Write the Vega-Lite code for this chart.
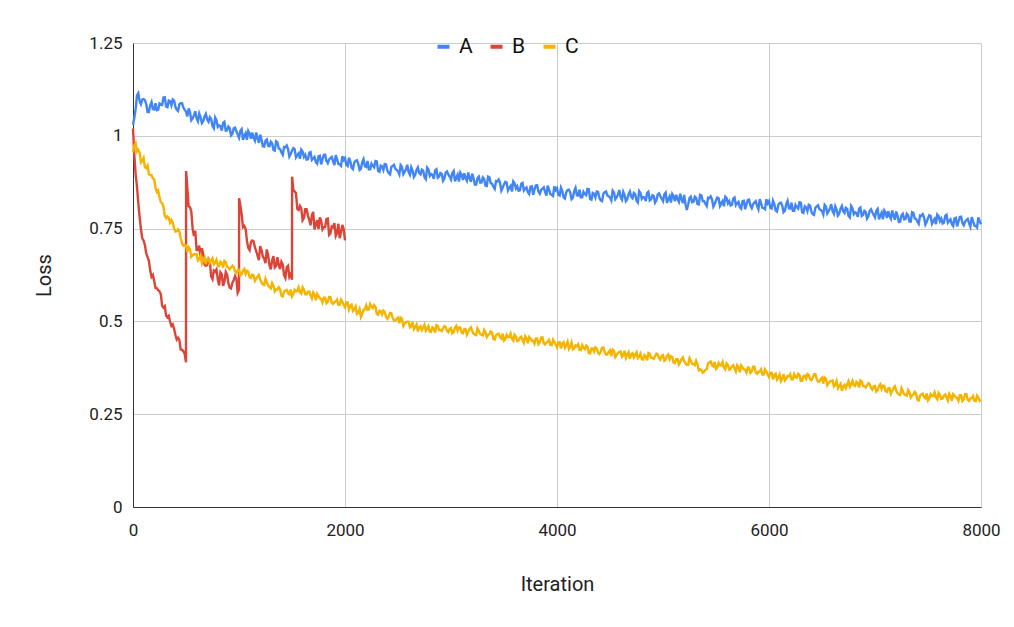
{
  "$schema": "https://vega.github.io/schema/vega-lite/v6.json",
  "width": 848,
  "height": 464,
  "autosize": {"type": "none"},
  "padding": {"left": 133, "top": 43, "right": 33, "bottom": 120},
  "background": "white",
  "config": {
    "font": "Roboto",
    "view": {"stroke": null},
    "axis": {
      "labelFont": "Roboto",
      "labelFontSize": 17,
      "labelColor": "#222222",
      "titleFont": "Roboto",
      "titleFontSize": 20,
      "titleFontWeight": "normal",
      "titleColor": "#222222",
      "ticks": false,
      "labelFlush": false,
      "gridColor": "#cccccc",
      "gridWidth": 1,
      "domainColor": "#333333",
      "domainWidth": 1
    }
  },
  "data": {
    "values": [
      {"x":0,"A":1.03,"B":1.02,"C":0.955},
      {"x":25,"A":1.072,"B":0.896,"C":0.98},
      {"x":50,"A":1.115,"B":0.819,"C":0.962},
      {"x":75,"A":1.085,"B":0.748,"C":0.928},
      {"x":100,"A":1.099,"B":0.718,"C":0.94},
      {"x":125,"A":1.085,"B":0.683,"C":0.913},
      {"x":150,"A":1.064,"B":0.663,"C":0.897},
      {"x":175,"A":1.091,"B":0.62,"C":0.894},
      {"x":200,"A":1.071,"B":0.609,"C":0.883},
      {"x":225,"A":1.069,"B":0.589,"C":0.849},
      {"x":250,"A":1.087,"B":0.581,"C":0.835},
      {"x":275,"A":1.083,"B":0.542,"C":0.819},
      {"x":300,"A":1.104,"B":0.541,"C":0.785},
      {"x":325,"A":1.077,"B":0.511,"C":0.783},
      {"x":350,"A":1.093,"B":0.499,"C":0.766},
      {"x":375,"A":1.098,"B":0.492,"C":0.766},
      {"x":400,"A":1.078,"B":0.464,"C":0.742},
      {"x":425,"A":1.067,"B":0.456,"C":0.748},
      {"x":450,"A":1.088,"B":0.424,"C":0.724},
      {"x":475,"A":1.076,"B":0.42,"C":0.704},
      {"x":500,"A":1.065,"B":0.39,"C":0.705},
      {"x":501,"B":0.905},
      {"x":525,"A":1.074,"B":0.81,"C":0.70},
      {"x":550,"A":1.042,"B":0.796,"C":0.674},
      {"x":575,"A":1.055,"B":0.73,"C":0.681},
      {"x":600,"A":1.047,"B":0.692,"C":0.681},
      {"x":625,"A":1.06,"B":0.704,"C":0.667},
      {"x":650,"A":1.034,"B":0.697,"C":0.656},
      {"x":675,"A":1.052,"B":0.653,"C":0.672},
      {"x":700,"A":1.044,"B":0.652,"C":0.667},
      {"x":725,"A":1.05,"B":0.662,"C":0.658},
      {"x":750,"A":1.026,"B":0.614,"C":0.67},
      {"x":775,"A":1.049,"B":0.634,"C":0.658},
      {"x":800,"A":1.024,"B":0.613,"C":0.651},
      {"x":825,"A":1.026,"B":0.632,"C":0.661},
      {"x":850,"A":1.035,"B":0.596,"C":0.645},
      {"x":875,"A":1.014,"B":0.633,"C":0.66},
      {"x":900,"A":1.025,"B":0.603,"C":0.645},
      {"x":925,"A":1.001,"B":0.589,"C":0.645},
      {"x":950,"A":1.02,"B":0.611,"C":0.646},
      {"x":975,"A":1.012,"B":0.615,"C":0.63},
      {"x":1000,"A":0.995,"B":0.585,"C":0.639},
      {"x":1001,"B":0.832},
      {"x":1025,"A":1.018,"B":0.788,"C":0.627},
      {"x":1050,"A":1.0,"B":0.757,"C":0.641},
      {"x":1075,"A":0.989,"B":0.717,"C":0.636},
      {"x":1100,"A":1.006,"B":0.692,"C":0.619},
      {"x":1125,"A":1.009,"B":0.718,"C":0.626},
      {"x":1150,"A":0.987,"B":0.70,"C":0.609},
      {"x":1175,"A":0.993,"B":0.677,"C":0.621},
      {"x":1200,"A":1.003,"B":0.703,"C":0.613},
      {"x":1225,"A":0.972,"B":0.675,"C":0.60},
      {"x":1250,"A":0.987,"B":0.657,"C":0.615},
      {"x":1275,"A":0.973,"B":0.677,"C":0.596},
      {"x":1300,"A":0.984,"B":0.64,"C":0.589},
      {"x":1325,"A":0.962,"B":0.676,"C":0.596},
      {"x":1350,"A":0.985,"B":0.649,"C":0.586},
      {"x":1375,"A":0.966,"B":0.653,"C":0.592},
      {"x":1400,"A":0.956,"B":0.661,"C":0.569},
      {"x":1425,"A":0.97,"B":0.625,"C":0.58},
      {"x":1450,"A":0.974,"B":0.646,"C":0.585},
      {"x":1475,"A":0.944,"B":0.62,"C":0.573},
      {"x":1500,"A":0.96,"B":0.612,"C":0.567},
      {"x":1501,"B":0.89},
      {"x":1525,"A":0.964,"B":0.85,"C":0.585},
      {"x":1550,"A":0.948,"B":0.803,"C":0.582},
      {"x":1575,"A":0.938,"B":0.811,"C":0.579},
      {"x":1600,"A":0.958,"B":0.772,"C":0.592},
      {"x":1625,"A":0.949,"B":0.802,"C":0.573},
      {"x":1650,"A":0.937,"B":0.785,"C":0.58},
      {"x":1675,"A":0.956,"B":0.759,"C":0.571},
      {"x":1700,"A":0.939,"B":0.795,"C":0.578},
      {"x":1725,"A":0.929,"B":0.761,"C":0.557},
      {"x":1750,"A":0.945,"B":0.749,"C":0.568},
      {"x":1775,"A":0.923,"B":0.771,"C":0.56},
      {"x":1800,"A":0.948,"B":0.754,"C":0.564},
      {"x":1825,"A":0.932,"B":0.776,"C":0.549},
      {"x":1850,"A":0.936,"B":0.733,"C":0.566},
      {"x":1875,"A":0.943,"B":0.756,"C":0.55},
      {"x":1900,"A":0.921,"B":0.765,"C":0.552},
      {"x":1925,"A":0.937,"B":0.738,"C":0.559},
      {"x":1950,"A":0.923,"B":0.724,"C":0.545},
      {"x":1975,"A":0.945,"B":0.76,"C":0.553},
      {"x":2000,"A":0.94,"B":0.718,"C":0.538},
      {"x":2025,"A":0.919,"C":0.551},
      {"x":2050,"A":0.931,"C":0.542},
      {"x":2075,"A":0.91,"C":0.528},
      {"x":2100,"A":0.933,"C":0.54},
      {"x":2125,"A":0.925,"C":0.523},
      {"x":2150,"A":0.911,"C":0.512},
      {"x":2175,"A":0.937,"C":0.531},
      {"x":2200,"A":0.916,"C":0.543},
      {"x":2225,"A":0.91,"C":0.532},
      {"x":2250,"A":0.925,"C":0.54},
      {"x":2275,"A":0.915,"C":0.544},
      {"x":2300,"A":0.931,"C":0.52},
      {"x":2325,"A":0.903,"C":0.529},
      {"x":2350,"A":0.918,"C":0.519},
      {"x":2375,"A":0.924,"C":0.525},
      {"x":2400,"A":0.906,"C":0.507},
      {"x":2425,"A":0.896,"C":0.523},
      {"x":2450,"A":0.919,"C":0.509},
      {"x":2475,"A":0.911,"C":0.502},
      {"x":2500,"A":0.904,"C":0.51},
      {"x":2525,"A":0.921,"C":0.51},
      {"x":2550,"A":0.897,"C":0.488},
      {"x":2575,"A":0.91,"C":0.497},
      {"x":2600,"A":0.902,"C":0.499},
      {"x":2625,"A":0.915,"C":0.487},
      {"x":2650,"A":0.889,"C":0.479},
      {"x":2675,"A":0.908,"C":0.492},
      {"x":2700,"A":0.90,"C":0.484},
      {"x":2725,"A":0.909,"C":0.477},
      {"x":2750,"A":0.888,"C":0.491},
      {"x":2775,"A":0.914,"C":0.48},
      {"x":2800,"A":0.892,"C":0.473},
      {"x":2825,"A":0.895,"C":0.484},
      {"x":2850,"A":0.907,"C":0.47},
      {"x":2875,"A":0.887,"C":0.488},
      {"x":2900,"A":0.90,"C":0.477},
      {"x":2925,"A":0.879,"C":0.481},
      {"x":2950,"A":0.901,"C":0.485},
      {"x":2975,"A":0.896,"C":0.471},
      {"x":3000,"A":0.882,"C":0.482},
      {"x":3025,"A":0.905,"C":0.471},
      {"x":3050,"A":0.887,"C":0.488},
      {"x":3075,"A":0.877,"C":0.484},
      {"x":3100,"A":0.895,"C":0.47},
      {"x":3125,"A":0.899,"C":0.479},
      {"x":3150,"A":0.879,"C":0.464},
      {"x":3175,"A":0.886,"C":0.48},
      {"x":3200,"A":0.898,"C":0.474},
      {"x":3225,"A":0.869,"C":0.464},
      {"x":3250,"A":0.886,"C":0.481},
      {"x":3275,"A":0.874,"C":0.466},
      {"x":3300,"A":0.888,"C":0.462},
      {"x":3325,"A":0.866,"C":0.471},
      {"x":3350,"A":0.89,"C":0.464},
      {"x":3375,"A":0.872,"C":0.473},
      {"x":3400,"A":0.863,"C":0.453},
      {"x":3425,"A":0.878,"C":0.463},
      {"x":3450,"A":0.882,"C":0.467},
      {"x":3475,"A":0.852,"C":0.454},
      {"x":3500,"A":0.869,"C":0.448},
      {"x":3525,"A":0.874,"C":0.464},
      {"x":3550,"A":0.86,"C":0.458},
      {"x":3575,"A":0.85,"C":0.453},
      {"x":3600,"A":0.872,"C":0.464},
      {"x":3625,"A":0.864,"C":0.447},
      {"x":3650,"A":0.853,"C":0.456},
      {"x":3675,"A":0.873,"C":0.45},
      {"x":3700,"A":0.858,"C":0.46},
      {"x":3725,"A":0.848,"C":0.441},
      {"x":3750,"A":0.863,"C":0.454},
      {"x":3775,"A":0.841,"C":0.448},
      {"x":3800,"A":0.866,"C":0.454},
      {"x":3825,"A":0.85,"C":0.439},
      {"x":3850,"A":0.854,"C":0.456},
      {"x":3875,"A":0.861,"C":0.441},
      {"x":3900,"A":0.839,"C":0.443},
      {"x":3925,"A":0.855,"C":0.45},
      {"x":3950,"A":0.841,"C":0.436},
      {"x":3975,"A":0.864,"C":0.445},
      {"x":4000,"A":0.859,"C":0.43},
      {"x":4025,"A":0.839,"C":0.444},
      {"x":4050,"A":0.851,"C":0.44},
      {"x":4075,"A":0.831,"C":0.429},
      {"x":4100,"A":0.854,"C":0.445},
      {"x":4125,"A":0.847,"C":0.432},
      {"x":4150,"A":0.833,"C":0.425},
      {"x":4175,"A":0.86,"C":0.435},
      {"x":4200,"A":0.839,"C":0.438},
      {"x":4225,"A":0.834,"C":0.423},
      {"x":4250,"A":0.849,"C":0.428},
      {"x":4275,"A":0.84,"C":0.435},
      {"x":4300,"A":0.856,"C":0.415},
      {"x":4325,"A":0.828,"C":0.427},
      {"x":4350,"A":0.844,"C":0.419},
      {"x":4375,"A":0.85,"C":0.427},
      {"x":4400,"A":0.833,"C":0.412},
      {"x":4425,"A":0.824,"C":0.429},
      {"x":4450,"A":0.848,"C":0.417},
      {"x":4475,"A":0.84,"C":0.411},
      {"x":4500,"A":0.834,"C":0.422},
      {"x":4525,"A":0.852,"C":0.424},
      {"x":4550,"A":0.829,"C":0.404},
      {"x":4575,"A":0.842,"C":0.415},
      {"x":4600,"A":0.835,"C":0.419},
      {"x":4625,"A":0.849,"C":0.409},
      {"x":4650,"A":0.824,"C":0.402},
      {"x":4675,"A":0.843,"C":0.417},
      {"x":4700,"A":0.836,"C":0.411},
      {"x":4725,"A":0.846,"C":0.403},
      {"x":4750,"A":0.825,"C":0.417},
      {"x":4775,"A":0.851,"C":0.405},
      {"x":4800,"A":0.83,"C":0.398},
      {"x":4825,"A":0.834,"C":0.409},
      {"x":4850,"A":0.846,"C":0.395},
      {"x":4875,"A":0.826,"C":0.413},
      {"x":4900,"A":0.84,"C":0.402},
      {"x":4925,"A":0.82,"C":0.406},
      {"x":4950,"A":0.842,"C":0.411},
      {"x":4975,"A":0.837,"C":0.397},
      {"x":5000,"A":0.824,"C":0.409},
      {"x":5025,"A":0.847,"C":0.397},
      {"x":5050,"A":0.83,"C":0.411},
      {"x":5075,"A":0.82,"C":0.406},
      {"x":5100,"A":0.837,"C":0.389},
      {"x":5125,"A":0.841,"C":0.398},
      {"x":5150,"A":0.822,"C":0.384},
      {"x":5175,"A":0.829,"C":0.399},
      {"x":5200,"A":0.841,"C":0.393},
      {"x":5225,"A":0.80,"C":0.383},
      {"x":5250,"A":0.832,"C":0.401},
      {"x":5275,"A":0.821,"C":0.386},
      {"x":5300,"A":0.836,"C":0.382},
      {"x":5325,"A":0.816,"C":0.385},
      {"x":5350,"A":0.841,"C":0.371},
      {"x":5375,"A":0.824,"C":0.362},
      {"x":5400,"A":0.817,"C":0.369},
      {"x":5425,"A":0.833,"C":0.387},
      {"x":5450,"A":0.837,"C":0.392},
      {"x":5475,"A":0.809,"C":0.379},
      {"x":5500,"A":0.826,"C":0.372},
      {"x":5525,"A":0.832,"C":0.388},
      {"x":5550,"A":0.818,"C":0.381},
      {"x":5575,"A":0.81,"C":0.376},
      {"x":5600,"A":0.832,"C":0.387},
      {"x":5625,"A":0.824,"C":0.37},
      {"x":5650,"A":0.814,"C":0.379},
      {"x":5675,"A":0.834,"C":0.373},
      {"x":5700,"A":0.818,"C":0.382},
      {"x":5725,"A":0.808,"C":0.363},
      {"x":5750,"A":0.824,"C":0.376},
      {"x":5775,"A":0.802,"C":0.37},
      {"x":5800,"A":0.827,"C":0.376},
      {"x":5825,"A":0.812,"C":0.361},
      {"x":5850,"A":0.816,"C":0.378},
      {"x":5875,"A":0.824,"C":0.362},
      {"x":5900,"A":0.802,"C":0.364},
      {"x":5925,"A":0.819,"C":0.371},
      {"x":5950,"A":0.805,"C":0.357},
      {"x":5975,"A":0.829,"C":0.365},
      {"x":6000,"A":0.824,"C":0.35},
      {"x":6025,"A":0.804,"C":0.362},
      {"x":6050,"A":0.816,"C":0.356},
      {"x":6075,"A":0.796,"C":0.343},
      {"x":6100,"A":0.819,"C":0.357},
      {"x":6125,"A":0.812,"C":0.346},
      {"x":6150,"A":0.798,"C":0.341},
      {"x":6175,"A":0.825,"C":0.353},
      {"x":6200,"A":0.804,"C":0.358},
      {"x":6225,"A":0.798,"C":0.344},
      {"x":6250,"A":0.814,"C":0.35},
      {"x":6275,"A":0.804,"C":0.359},
      {"x":6300,"A":0.82,"C":0.34},
      {"x":6325,"A":0.792,"C":0.353},
      {"x":6350,"A":0.807,"C":0.346},
      {"x":6375,"A":0.814,"C":0.356},
      {"x":6400,"A":0.796,"C":0.342},
      {"x":6425,"A":0.787,"C":0.358},
      {"x":6450,"A":0.81,"C":0.345},
      {"x":6475,"A":0.803,"C":0.338},
      {"x":6500,"A":0.797,"C":0.348},
      {"x":6525,"A":0.814,"C":0.349},
      {"x":6550,"A":0.791,"C":0.328},
      {"x":6575,"A":0.804,"C":0.338},
      {"x":6600,"A":0.797,"C":0.341},
      {"x":6625,"A":0.81,"C":0.329},
      {"x":6650,"A":0.785,"C":0.32},
      {"x":6675,"A":0.804,"C":0.332},
      {"x":6700,"A":0.797,"C":0.324},
      {"x":6725,"A":0.806,"C":0.32},
      {"x":6750,"A":0.784,"C":0.339},
      {"x":6775,"A":0.811,"C":0.331},
      {"x":6800,"A":0.789,"C":0.328},
      {"x":6825,"A":0.792,"C":0.337},
      {"x":6850,"A":0.804,"C":0.322},
      {"x":6875,"A":0.784,"C":0.338},
      {"x":6900,"A":0.798,"C":0.326},
      {"x":6925,"A":0.777,"C":0.328},
      {"x":6950,"A":0.798,"C":0.331},
      {"x":6975,"A":0.794,"C":0.316},
      {"x":7000,"A":0.78,"C":0.326},
      {"x":7025,"A":0.803,"C":0.315},
      {"x":7050,"A":0.785,"C":0.331},
      {"x":7075,"A":0.775,"C":0.327},
      {"x":7100,"A":0.793,"C":0.312},
      {"x":7125,"A":0.797,"C":0.32},
      {"x":7150,"A":0.777,"C":0.305},
      {"x":7175,"A":0.784,"C":0.32},
      {"x":7200,"A":0.796,"C":0.314},
      {"x":7225,"A":0.768,"C":0.303},
      {"x":7250,"A":0.786,"C":0.32},
      {"x":7275,"A":0.775,"C":0.304},
      {"x":7300,"A":0.79,"C":0.30},
      {"x":7325,"A":0.769,"C":0.309},
      {"x":7350,"A":0.794,"C":0.301},
      {"x":7375,"A":0.777,"C":0.31},
      {"x":7400,"A":0.769,"C":0.289},
      {"x":7425,"A":0.785,"C":0.30},
      {"x":7450,"A":0.789,"C":0.305},
      {"x":7475,"A":0.761,"C":0.293},
      {"x":7500,"A":0.778,"C":0.287},
      {"x":7525,"A":0.784,"C":0.304},
      {"x":7550,"A":0.77,"C":0.299},
      {"x":7575,"A":0.762,"C":0.295},
      {"x":7600,"A":0.784,"C":0.307},
      {"x":7625,"A":0.777,"C":0.291},
      {"x":7650,"A":0.766,"C":0.30},
      {"x":7675,"A":0.787,"C":0.295},
      {"x":7700,"A":0.771,"C":0.305},
      {"x":7725,"A":0.762,"C":0.286},
      {"x":7750,"A":0.777,"C":0.30},
      {"x":7775,"A":0.756,"C":0.294},
      {"x":7800,"A":0.781,"C":0.301},
      {"x":7825,"A":0.765,"C":0.286},
      {"x":7850,"A":0.769,"C":0.304},
      {"x":7875,"A":0.776,"C":0.289},
      {"x":7900,"A":0.755,"C":0.292},
      {"x":7925,"A":0.771,"C":0.299},
      {"x":7950,"A":0.757,"C":0.285},
      {"x":7975,"A":0.78,"C":0.295},
      {"x":8000,"A":0.762,"C":0.289},
      {"x":12.5,"A":1.049,"B":0.947,"C":0.974},
      {"x":37.5,"A":1.109,"B":0.864,"C":0.957},
      {"x":62.5,"A":1.093,"B":0.781,"C":0.955},
      {"x":87.5,"A":1.098,"B":0.724,"C":0.932},
      {"x":112.5,"A":1.096,"B":0.705,"C":0.915},
      {"x":137.5,"A":1.064,"B":0.673,"C":0.92},
      {"x":162.5,"A":1.082,"B":0.637,"C":0.894},
      {"x":187.5,"A":1.072,"B":0.625,"C":0.885},
      {"x":212.5,"A":1.088,"B":0.59,"C":0.859},
      {"x":237.5,"A":1.07,"B":0.584,"C":0.853},
      {"x":262.5,"A":1.084,"B":0.573,"C":0.821},
      {"x":287.5,"A":1.103,"B":0.537,"C":0.809},
      {"x":312.5,"A":1.079,"B":0.516,"C":0.778},
      {"x":337.5,"A":1.095,"B":0.515,"C":0.779},
      {"x":362.5,"A":1.082,"B":0.488,"C":0.773},
      {"x":387.5,"A":1.095,"B":0.48,"C":0.75},
      {"x":412.5,"A":1.07,"B":0.451,"C":0.743},
      {"x":437.5,"A":1.085,"B":0.45,"C":0.742},
      {"x":462.5,"A":1.088,"B":0.424,"C":0.71},
      {"x":487.5,"A":1.07,"B":0.413,"C":0.706},
      {"x":512.5,"A":1.052,"B":0.86,"C":0.687},
      {"x":537.5,"A":1.064,"B":0.808,"C":0.695},
      {"x":562.5,"A":1.047,"B":0.75,"C":0.678},
      {"x":587.5,"A":1.066,"B":0.745,"C":0.681},
      {"x":612.5,"A":1.039,"B":0.692,"C":0.664},
      {"x":637.5,"A":1.05,"B":0.671,"C":0.677},
      {"x":662.5,"A":1.039,"B":0.682,"C":0.664},
      {"x":687.5,"A":1.059,"B":0.65,"C":0.654},
      {"x":712.5,"A":1.038,"B":0.668,"C":0.669},
      {"x":737.5,"A":1.045,"B":0.621,"C":0.664},
      {"x":762.5,"A":1.02,"B":0.637,"C":0.654},
      {"x":787.5,"A":1.042,"B":0.64,"C":0.666},
      {"x":812.5,"A":1.028,"B":0.597,"C":0.649},
      {"x":837.5,"A":1.014,"B":0.627,"C":0.657},
      {"x":862.5,"A":1.038,"B":0.607,"C":0.663},
      {"x":887.5,"A":1.015,"B":0.626,"C":0.647},
      {"x":912.5,"A":1.021,"B":0.591,"C":0.64},
      {"x":937.5,"A":1.005,"B":0.604,"C":0.65},
      {"x":962.5,"A":1.022,"B":0.622,"C":0.635},
      {"x":987.5,"A":1.004,"B":0.577,"C":0.638},
      {"x":1012.5,"A":1.013,"B":0.813,"C":0.624},
      {"x":1037.5,"A":0.989,"B":0.754,"C":0.637},
      {"x":1062.5,"A":1.007,"B":0.749,"C":0.628},
      {"x":1087.5,"A":1.013,"B":0.698,"C":0.634},
      {"x":1112.5,"A":0.992,"B":0.714,"C":0.617},
      {"x":1137.5,"A":0.995,"B":0.716,"C":0.624},
      {"x":1162.5,"A":1.009,"B":0.689,"C":0.615},
      {"x":1187.5,"A":0.981,"B":0.665,"C":0.625},
      {"x":1212.5,"A":0.99,"B":0.692,"C":0.605},
      {"x":1237.5,"A":0.971,"B":0.669,"C":0.598},
      {"x":1262.5,"A":0.99,"B":0.694,"C":0.605},
      {"x":1287.5,"A":0.972,"B":0.651,"C":0.593},
      {"x":1312.5,"A":0.98,"B":0.664,"C":0.603},
      {"x":1337.5,"A":0.96,"B":0.645,"C":0.581},
      {"x":1362.5,"A":0.982,"B":0.673,"C":0.586},
      {"x":1387.5,"A":0.964,"B":0.641,"C":0.587},
      {"x":1412.5,"A":0.949,"B":0.654,"C":0.567},
      {"x":1437.5,"A":0.969,"B":0.617,"C":0.583},
      {"x":1462.5,"A":0.965,"B":0.65,"C":0.576},
      {"x":1487.5,"A":0.951,"B":0.627,"C":0.586},
      {"x":1512.5,"A":0.967,"B":0.855,"C":0.573},
      {"x":1537.5,"A":0.942,"B":0.846,"C":0.581},
      {"x":1562.5,"A":0.953,"B":0.80,"C":0.592},
      {"x":1587.5,"A":0.963,"B":0.804,"C":0.575},
      {"x":1612.5,"A":0.943,"B":0.778,"C":0.586},
      {"x":1637.5,"A":0.936,"B":0.802,"C":0.573},
      {"x":1662.5,"A":0.954,"B":0.774,"C":0.581},
      {"x":1687.5,"A":0.935,"B":0.786,"C":0.562},
      {"x":1712.5,"A":0.943,"B":0.748,"C":0.572},
      {"x":1737.5,"A":0.925,"B":0.773,"C":0.574},
      {"x":1762.5,"A":0.946,"B":0.78,"C":0.562},
      {"x":1787.5,"A":0.937,"B":0.748,"C":0.551},
      {"x":1812.5,"A":0.949,"B":0.754,"C":0.564},
      {"x":1837.5,"A":0.926,"B":0.777,"C":0.553},
      {"x":1862.5,"A":0.94,"B":0.737,"C":0.566},
      {"x":1887.5,"A":0.931,"B":0.754,"C":0.547},
      {"x":1912.5,"A":0.948,"B":0.73,"C":0.554},
      {"x":1937.5,"A":0.924,"B":0.763,"C":0.545},
      {"x":1962.5,"A":0.919,"B":0.74,"C":0.559},
      {"x":1987.5,"A":0.935,"B":0.749,"C":0.545},
      {"x":2012.5,"A":0.922,"C":0.551},
      {"x":2037.5,"A":0.941,"C":0.532},
      {"x":2062.5,"A":0.914,"C":0.545},
      {"x":2087.5,"A":0.928,"C":0.532},
      {"x":2112.5,"A":0.934,"C":0.52},
      {"x":2137.5,"A":0.908,"C":0.533},
      {"x":2162.5,"A":0.929,"C":0.52},
      {"x":2187.5,"A":0.918,"C":0.533},
      {"x":2212.5,"A":0.932,"C":0.531},
      {"x":2237.5,"A":0.91,"C":0.547},
      {"x":2262.5,"A":0.919,"C":0.536},
      {"x":2287.5,"A":0.932,"C":0.539},
      {"x":2312.5,"A":0.905,"C":0.518},
      {"x":2337.5,"A":0.92,"C":0.528},
      {"x":2362.5,"A":0.908,"C":0.529},
      {"x":2387.5,"A":0.923,"C":0.512},
      {"x":2412.5,"A":0.899,"C":0.513},
      {"x":2437.5,"A":0.916,"C":0.522},
      {"x":2462.5,"A":0.922,"C":0.502},
      {"x":2487.5,"A":0.908,"C":0.507},
      {"x":2512.5,"A":0.896,"C":0.495},
      {"x":2537.5,"A":0.916,"C":0.507},
      {"x":2562.5,"A":0.903,"C":0.494},
      {"x":2587.5,"A":0.922,"C":0.499},
      {"x":2612.5,"A":0.895,"C":0.484},
      {"x":2637.5,"A":0.906,"C":0.498},
      {"x":2662.5,"A":0.895,"C":0.485},
      {"x":2687.5,"A":0.915,"C":0.473},
      {"x":2712.5,"A":0.896,"C":0.487},
      {"x":2737.5,"A":0.906,"C":0.484},
      {"x":2762.5,"A":0.883,"C":0.475},
      {"x":2787.5,"A":0.909,"C":0.487},
      {"x":2812.5,"A":0.897,"C":0.472},
      {"x":2837.5,"A":0.884,"C":0.481},
      {"x":2862.5,"A":0.91,"C":0.49},
      {"x":2887.5,"A":0.89,"C":0.477},
      {"x":2912.5,"A":0.898,"C":0.474},
      {"x":2937.5,"A":0.885,"C":0.487},
      {"x":2962.5,"A":0.904,"C":0.475},
      {"x":2987.5,"A":0.89,"C":0.48},
      {"x":3012.5,"A":0.90,"C":0.468},
      {"x":3037.5,"A":0.877,"C":0.483},
      {"x":3062.5,"A":0.895,"C":0.475},
      {"x":3087.5,"A":0.901,"C":0.484},
      {"x":3112.5,"A":0.881,"C":0.468},
      {"x":3137.5,"A":0.886,"C":0.479},
      {"x":3162.5,"A":0.901,"C":0.472},
      {"x":3187.5,"A":0.876,"C":0.484},
      {"x":3212.5,"A":0.886,"C":0.467},
      {"x":3237.5,"A":0.869,"C":0.463},
      {"x":3262.5,"A":0.89,"C":0.474},
      {"x":3287.5,"A":0.874,"C":0.464},
      {"x":3312.5,"A":0.884,"C":0.477},
      {"x":3337.5,"A":0.865,"C":0.458},
      {"x":3362.5,"A":0.888,"C":0.466},
      {"x":3387.5,"A":0.871,"C":0.47},
      {"x":3412.5,"A":0.857,"C":0.451},
      {"x":3437.5,"A":0.877,"C":0.466},
      {"x":3462.5,"A":0.873,"C":0.458},
      {"x":3487.5,"A":0.86,"C":0.467},
      {"x":3512.5,"A":0.876,"C":0.452},
      {"x":3537.5,"A":0.853,"C":0.458},
      {"x":3562.5,"A":0.865,"C":0.467},
      {"x":3587.5,"A":0.877,"C":0.448},
      {"x":3612.5,"A":0.858,"C":0.459},
      {"x":3637.5,"A":0.852,"C":0.449},
      {"x":3662.5,"A":0.871,"C":0.459},
      {"x":3687.5,"A":0.853,"C":0.442},
      {"x":3712.5,"A":0.861,"C":0.454},
      {"x":3737.5,"A":0.843,"C":0.458},
      {"x":3762.5,"A":0.864,"C":0.448},
      {"x":3787.5,"A":0.855,"C":0.44},
      {"x":3812.5,"A":0.867,"C":0.454},
      {"x":3837.5,"A":0.844,"C":0.444},
      {"x":3862.5,"A":0.858,"C":0.457},
      {"x":3887.5,"A":0.849,"C":0.438},
      {"x":3912.5,"A":0.866,"C":0.445},
      {"x":3937.5,"A":0.843,"C":0.437},
      {"x":3962.5,"A":0.838,"C":0.451},
      {"x":3987.5,"A":0.854,"C":0.437},
      {"x":4012.5,"A":0.841,"C":0.443},
      {"x":4037.5,"A":0.86,"C":0.427},
      {"x":4062.5,"A":0.834,"C":0.444},
      {"x":4087.5,"A":0.848,"C":0.435},
      {"x":4112.5,"A":0.855,"C":0.426},
      {"x":4137.5,"A":0.829,"C":0.443},
      {"x":4162.5,"A":0.851,"C":0.428},
      {"x":4187.5,"A":0.84,"C":0.433},
      {"x":4212.5,"A":0.855,"C":0.423},
      {"x":4237.5,"A":0.834,"C":0.436},
      {"x":4262.5,"A":0.843,"C":0.425},
      {"x":4287.5,"A":0.857,"C":0.432},
      {"x":4312.5,"A":0.83,"C":0.414},
      {"x":4337.5,"A":0.846,"C":0.427},
      {"x":4362.5,"A":0.834,"C":0.43},
      {"x":4387.5,"A":0.849,"C":0.416},
      {"x":4412.5,"A":0.826,"C":0.419},
      {"x":4437.5,"A":0.844,"C":0.43},
      {"x":4462.5,"A":0.85,"C":0.411},
      {"x":4487.5,"A":0.837,"C":0.418},
      {"x":4512.5,"A":0.826,"C":0.407},
      {"x":4537.5,"A":0.847,"C":0.421},
      {"x":4562.5,"A":0.834,"C":0.41},
      {"x":4587.5,"A":0.854,"C":0.418},
      {"x":4612.5,"A":0.828,"C":0.405},
      {"x":4637.5,"A":0.84,"C":0.421},
      {"x":4662.5,"A":0.829,"C":0.41},
      {"x":4687.5,"A":0.85,"C":0.399},
      {"x":4712.5,"A":0.832,"C":0.414},
      {"x":4737.5,"A":0.843,"C":0.411},
      {"x":4762.5,"A":0.82,"C":0.401},
      {"x":4787.5,"A":0.846,"C":0.413},
      {"x":4812.5,"A":0.835,"C":0.397},
      {"x":4837.5,"A":0.824,"C":0.406},
      {"x":4862.5,"A":0.849,"C":0.415},
      {"x":4887.5,"A":0.829,"C":0.402},
      {"x":4912.5,"A":0.838,"C":0.399},
      {"x":4937.5,"A":0.826,"C":0.413},
      {"x":4962.5,"A":0.845,"C":0.401},
      {"x":4987.5,"A":0.831,"C":0.407},
      {"x":5012.5,"A":0.842,"C":0.394},
      {"x":5037.5,"A":0.819,"C":0.407},
      {"x":5062.5,"A":0.837,"C":0.398},
      {"x":5087.5,"A":0.843,"C":0.404},
      {"x":5112.5,"A":0.824,"C":0.388},
      {"x":5137.5,"A":0.829,"C":0.398},
      {"x":5162.5,"A":0.844,"C":0.391},
      {"x":5187.5,"A":0.819,"C":0.403},
      {"x":5212.5,"A":0.815,"C":0.387},
      {"x":5237.5,"A":0.815,"C":0.383},
      {"x":5262.5,"A":0.836,"C":0.394},
      {"x":5287.5,"A":0.822,"C":0.385},
      {"x":5312.5,"A":0.833,"C":0.394},
      {"x":5337.5,"A":0.815,"C":0.368},
      {"x":5362.5,"A":0.839,"C":0.369},
      {"x":5387.5,"A":0.824,"C":0.365},
      {"x":5412.5,"A":0.811,"C":0.371},
      {"x":5437.5,"A":0.832,"C":0.39},
      {"x":5462.5,"A":0.829,"C":0.382},
      {"x":5487.5,"A":0.816,"C":0.391},
      {"x":5512.5,"A":0.834,"C":0.376},
      {"x":5537.5,"A":0.811,"C":0.382},
      {"x":5562.5,"A":0.824,"C":0.391},
      {"x":5587.5,"A":0.836,"C":0.371},
      {"x":5612.5,"A":0.818,"C":0.382},
      {"x":5637.5,"A":0.812,"C":0.372},
      {"x":5662.5,"A":0.831,"C":0.382},
      {"x":5687.5,"A":0.813,"C":0.365},
      {"x":5712.5,"A":0.822,"C":0.377},
      {"x":5737.5,"A":0.804,"C":0.381},
      {"x":5762.5,"A":0.825,"C":0.371},
      {"x":5787.5,"A":0.815,"C":0.362},
      {"x":5812.5,"A":0.828,"C":0.375},
      {"x":5837.5,"A":0.805,"C":0.365},
      {"x":5862.5,"A":0.82,"C":0.378},
      {"x":5887.5,"A":0.811,"C":0.359},
      {"x":5912.5,"A":0.829,"C":0.365},
      {"x":5937.5,"A":0.806,"C":0.357},
      {"x":5962.5,"A":0.802,"C":0.371},
      {"x":5987.5,"A":0.818,"C":0.357},
      {"x":6012.5,"A":0.806,"C":0.362},
      {"x":6037.5,"A":0.825,"C":0.344},
      {"x":6062.5,"A":0.799,"C":0.359},
      {"x":6087.5,"A":0.813,"C":0.348},
      {"x":6112.5,"A":0.82,"C":0.339},
      {"x":6137.5,"A":0.794,"C":0.358},
      {"x":6162.5,"A":0.816,"C":0.345},
      {"x":6187.5,"A":0.805,"C":0.352},
      {"x":6212.5,"A":0.82,"C":0.344},
      {"x":6237.5,"A":0.798,"C":0.358},
      {"x":6262.5,"A":0.808,"C":0.348},
      {"x":6287.5,"A":0.821,"C":0.356},
      {"x":6312.5,"A":0.794,"C":0.34},
      {"x":6337.5,"A":0.81,"C":0.354},
      {"x":6362.5,"A":0.797,"C":0.358},
      {"x":6387.5,"A":0.812,"C":0.345},
      {"x":6412.5,"A":0.789,"C":0.348},
      {"x":6437.5,"A":0.806,"C":0.358},
      {"x":6462.5,"A":0.813,"C":0.338},
      {"x":6487.5,"A":0.80,"C":0.344},
      {"x":6512.5,"A":0.788,"C":0.333},
      {"x":6537.5,"A":0.809,"C":0.346},
      {"x":6562.5,"A":0.797,"C":0.334},
      {"x":6587.5,"A":0.816,"C":0.34},
      {"x":6612.5,"A":0.79,"C":0.325},
      {"x":6637.5,"A":0.801,"C":0.339},
      {"x":6662.5,"A":0.79,"C":0.326},
      {"x":6687.5,"A":0.811,"C":0.313},
      {"x":6712.5,"A":0.792,"C":0.329},
      {"x":6737.5,"A":0.803,"C":0.33},
      {"x":6762.5,"A":0.78,"C":0.324},
      {"x":6787.5,"A":0.805,"C":0.34},
      {"x":6812.5,"A":0.794,"C":0.326},
      {"x":6837.5,"A":0.782,"C":0.334},
      {"x":6862.5,"A":0.807,"C":0.341},
      {"x":6887.5,"A":0.787,"C":0.326},
      {"x":6912.5,"A":0.795,"C":0.322},
      {"x":6937.5,"A":0.783,"C":0.334},
      {"x":6962.5,"A":0.802,"C":0.32},
      {"x":6987.5,"A":0.787,"C":0.325},
      {"x":7012.5,"A":0.798,"C":0.311},
      {"x":7037.5,"A":0.775,"C":0.326},
      {"x":7062.5,"A":0.793,"C":0.318},
      {"x":7087.5,"A":0.799,"C":0.326},
      {"x":7112.5,"A":0.779,"C":0.31},
      {"x":7137.5,"A":0.784,"C":0.32},
      {"x":7162.5,"A":0.799,"C":0.313},
      {"x":7187.5,"A":0.774,"C":0.325},
      {"x":7212.5,"A":0.785,"C":0.307},
      {"x":7237.5,"A":0.769,"C":0.302},
      {"x":7262.5,"A":0.79,"C":0.312},
      {"x":7287.5,"A":0.776,"C":0.302},
      {"x":7312.5,"A":0.786,"C":0.315},
      {"x":7337.5,"A":0.769,"C":0.295},
      {"x":7362.5,"A":0.792,"C":0.303},
      {"x":7387.5,"A":0.776,"C":0.306},
      {"x":7412.5,"A":0.763,"C":0.287},
      {"x":7437.5,"A":0.784,"C":0.303},
      {"x":7462.5,"A":0.781,"C":0.296},
      {"x":7487.5,"A":0.768,"C":0.306},
      {"x":7512.5,"A":0.786,"C":0.292},
      {"x":7537.5,"A":0.763,"C":0.299},
      {"x":7562.5,"A":0.776,"C":0.309},
      {"x":7587.5,"A":0.788,"C":0.29},
      {"x":7612.5,"A":0.77,"C":0.302},
      {"x":7637.5,"A":0.764,"C":0.292},
      {"x":7662.5,"A":0.784,"C":0.303},
      {"x":7687.5,"A":0.766,"C":0.287},
      {"x":7712.5,"A":0.775,"C":0.299},
      {"x":7737.5,"A":0.757,"C":0.304},
      {"x":7762.5,"A":0.779,"C":0.295},
      {"x":7787.5,"A":0.769,"C":0.286},
      {"x":7812.5,"A":0.782,"C":0.301},
      {"x":7837.5,"A":0.759,"C":0.291},
      {"x":7862.5,"A":0.773,"C":0.304},
      {"x":7887.5,"A":0.764,"C":0.286},
      {"x":7912.5,"A":0.781,"C":0.293},
      {"x":7937.5,"A":0.758,"C":0.286},
      {"x":7962.5,"A":0.753,"C":0.30},
      {"x":7987.5,"A":0.77,"C":0.286}
    ]
  },
  "transform": [
    {"fold": ["A", "B", "C"], "as": ["series", "loss"]},
    {"filter": "isValid(datum.loss)"}
  ],
  "mark": {"type": "line", "strokeWidth": 2.4, "interpolate": "linear"},
  "encoding": {
    "x": {
      "field": "x",
      "type": "quantitative",
      "title": "Iteration",
      "scale": {"domain": [0, 8000], "nice": false},
      "axis": {
        "values": [0, 2000, 4000, 6000, 8000],
        "format": "d",
        "labelPadding": 15,
        "titlePadding": 36
      }
    },
    "y": {
      "field": "loss",
      "type": "quantitative",
      "title": "Loss",
      "scale": {"domain": [0, 1.25], "nice": false},
      "axis": {
        "values": [0, 0.25, 0.5, 0.75, 1, 1.25],
        "format": ".3~g",
        "labelPadding": 11,
        "titlePadding": 34
      }
    },
    "color": {
      "field": "series",
      "type": "nominal",
      "scale": {"domain": ["A", "B", "C"], "range": ["#4285F4", "#DB4437", "#F4B400"]},
      "legend": {
        "title": null,
        "orient": "none",
        "direction": "horizontal",
        "legendX": 300,
        "legendY": -7,
        "padding": 0,
        "symbolType": "stroke",
        "symbolSize": 144,
        "symbolStrokeWidth": 4,
        "labelFont": "Roboto",
        "labelFontSize": 21,
        "labelColor": "#111111",
        "labelOffset": 5,
        "columnPadding": 9
      }
    }
  }
}
